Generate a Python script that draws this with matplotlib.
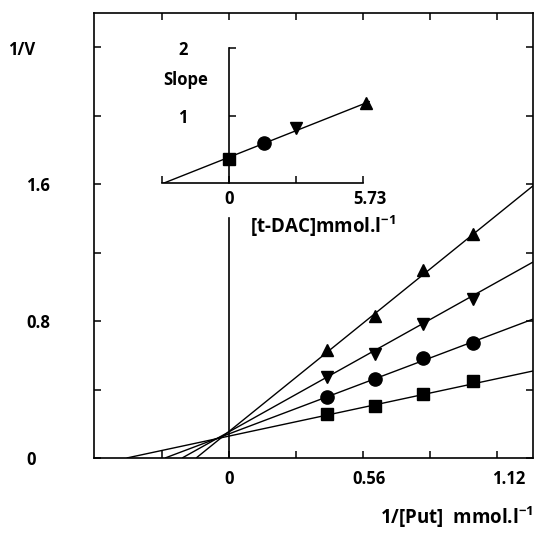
import matplotlib
matplotlib.use("Agg")
import matplotlib.pyplot as plt
import matplotlib.transforms as mtransforms
import numpy as np

plt.rcParams['font.family'] = ['Open Sans', 'DejaVu Sans']
plt.rcParams['font.weight'] = 'bold'
plt.rcParams['mathtext.fontset'] = 'custom'
plt.rcParams['mathtext.rm'] = 'Open Sans:bold'
plt.rcParams['mathtext.bf'] = 'Open Sans:bold'

# ---- main plot data: 1/[Put] vs 1/V for four t-DAC levels ----
inv_put = [0.41, 0.61, 0.81, 1.02]
v_square = [0.257, 0.304, 0.374, 0.450]
v_circle = [0.356, 0.461, 0.584, 0.672]
v_down = [0.475, 0.610, 0.785, 0.930]
v_up = [0.630, 0.830, 1.100, 1.310]

# fitted lines (slope, intercept) as drawn
line_slopes = [0.2995, 0.528, 0.781, 1.13]
line_intercepts = [0.128, 0.141, 0.153, 0.155]

# ---- inset data: slope vs [t-DAC] ----
tdac = [0.0, 1.49, 2.87, 5.84]
slope_vals = [0.36, 0.59, 0.82, 1.19]
inset_line_slope = 0.137
inset_line_intercept = 0.385

main_xticks = [-0.28, 0, 0.28, 0.56, 0.84, 1.12]
main_xticklabels = ['', '0', '', '0.56', '', '1.12']
main_yticks = [0, 0.4, 0.8, 1.2, 1.6, 2.0, 2.4]
main_yticklabels = ['0', '', '0.8', '', '1.6', '', '']
inset_xticks = [-2.865, 0, 2.865, 5.73]
inset_xticklabels = ['', '0', '', '5.73']
inset_yticks = [1, 2]
inset_yticklabels = ['1', '2']

FS = 12
FS_LAB = 13.5
W, H = 550, 535
fig = plt.figure(figsize=(W / 100, H / 100), dpi=100)

def px_rect(x0, y0, x1, y1):
    return [x0 / W, 1 - y1 / H, (x1 - x0) / W, (y1 - y0) / H]

ax = fig.add_axes(px_rect(94, 13, 533, 458))
ax.set_xlim(-0.564, 1.270)
ax.set_ylim(0, 2.6)
for sp in ax.spines.values():
    sp.set_linewidth(1.2)

markers = ['s', 'o', 'v', '^']
series = [v_square, v_circle, v_down, v_up]
msizes = [8.5, 9.5, 9, 9]
xmax = ax.get_xlim()[1]
for m, b, mk, ys, ms in zip(line_slopes, line_intercepts, markers, series, msizes):
    x0 = -b / m
    xs = np.array([x0, xmax])
    ax.plot(xs, m * xs + b, color='black', lw=1.0, solid_capstyle='butt')
    ax.plot(inv_put, ys, linestyle='none', marker=mk, ms=ms, color='black')

ax.set_xticks(main_xticks)
ax.set_xticklabels(main_xticklabels, fontsize=FS, fontweight='bold')
ax.set_yticks(main_yticks)
ax.set_yticklabels(main_yticklabels, fontsize=FS, fontweight='bold')
ax.tick_params(axis='both', direction='in', length=5, width=1.1, top=True, right=True)
ax.tick_params(axis='x', pad=9)
ax.tick_params(axis='y', pad=49)
for lab in ax.get_yticklabels():
    lab.set_ha('left')
offsets = [0, 0, 0, 6, 0, 12]
for lab, dx in zip(ax.get_xticklabels(), offsets):
    lab.set_transform(lab.get_transform() + mtransforms.ScaledTranslation(dx / 100, 0, fig.dpi_scale_trans))

ax.set_ylabel('1/V', rotation=0, fontsize=FS, fontweight='bold', ha='left', va='center')
ax.yaxis.set_label_coords((8 - 94) / 439, (458 - 50) / 445)

fig.text(380 / W, 1 - 517 / H, r'1/[Put]  mmol.l$^{\mathbf{-1}}$', fontsize=FS_LAB,
         fontweight='bold', ha='left', va='center')

# ---- inset ----
ins = fig.add_axes(px_rect(162, 48, 370, 183.3))
ins.set_xlim(-2.865, 6.03)
ins.set_ylim(0, 2)
ins.patch.set_alpha(0)

# vertical zero line of main plot, stopping just under the inset's labels
ax.axvline(0, ymin=0, ymax=(458 - 218) / 445, color='black', lw=1.2)

ins.spines['top'].set_visible(False)
ins.spines['right'].set_visible(False)
ins.spines['left'].set_position(('data', 0))
ins.spines['left'].set_bounds(0, 2)
ins.spines['bottom'].set_bounds(-2.865, 5.73)
for sp in ('left', 'bottom'):
    ins.spines[sp].set_linewidth(1.2)

xl = np.array([-inset_line_intercept / inset_line_slope, 6.0])
ins.plot(xl, inset_line_slope * xl + inset_line_intercept, color='black', lw=1.0)
for x, y, mk, ms in zip(tdac, slope_vals, markers, msizes):
    ins.plot([x], [y], marker=mk, ms=ms, color='black', linestyle='none', clip_on=False)

ins.set_xticks(inset_xticks)
ins.set_xticklabels(inset_xticklabels, fontsize=FS, fontweight='bold')
ins.set_yticks(inset_yticks)
ins.set_yticklabels(inset_yticklabels, fontsize=FS, fontweight='bold')
ins.tick_params(axis='both', direction='in', length=5, width=1.1)
ins.tick_params(axis='x', pad=5)
ins.tick_params(axis='y', pad=30)
for lab, dx in zip(ins.get_xticklabels(), [0, 0, 0, 7]):
    lab.set_transform(lab.get_transform() + mtransforms.ScaledTranslation(dx / 100, 0, fig.dpi_scale_trans))

fig.text(163 / W, 1 - 80 / H, 'Slope', fontsize=FS, fontweight='bold', ha='left', va='center')
fig.text(250 / W, 1 - 226 / H, r'[t-DAC]mmol.l$^{\mathbf{-1}}$', fontsize=FS_LAB,
         fontweight='bold', ha='left', va='center')

fig.savefig('out.png', dpi=100)
